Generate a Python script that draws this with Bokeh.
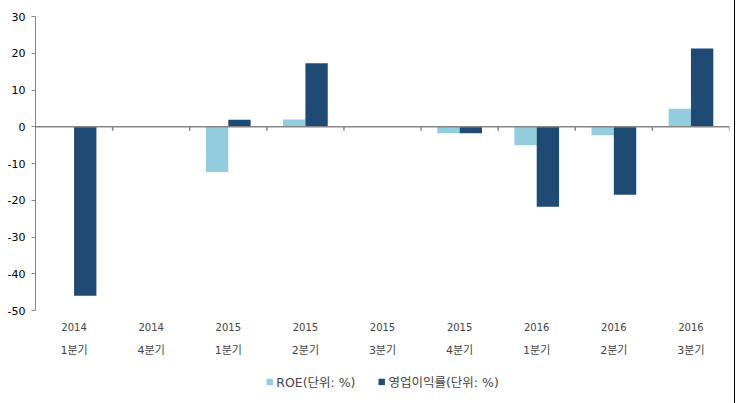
from bokeh.plotting import figure
from bokeh.layouts import column
from bokeh.models import (ColumnDataSource, FixedTicker, LinearAxis, Span, Legend,
                          LegendItem, Range1d)
from bokeh.embed import file_html
from bokeh.resources import INLINE

years = ["2014", "2014", "2015", "2015", "2015", "2015", "2016", "2016", "2016"]
quarters = ["1분기", "4분기", "1분기", "2분기", "3분기", "4분기", "1분기", "2분기", "3분기"]
roe = [0, 0, -12.3, 2.0, 0, -1.8, -5.0, -2.3, 4.9]
op_margin = [-46.0, 0, 1.9, 17.3, 0, -1.8, -21.8, -18.5, 21.3]
series_names = ["ROE(단위: %)", "영업이익률(단위: %)"]
y_ticks = [-50, -40, -30, -20, -10, 0, 10, 20, 30]

FONT = "DejaVu Sans, Noto Sans CJK KR"
GRAY = "#868686"
C_ROE = "#93CDDD"
C_OP = "#1F4A74"

n = len(years)
centers = [i + 0.5 for i in range(n)]
bw = 0.29
src = ColumnDataSource(dict(
    xr=[c - bw / 2 for c in centers],
    xo=[c + bw / 2 for c in centers],
    roe=roe, op=op_margin,
))

p = figure(width=734, height=359, output_backend="svg", toolbar_location=None,
           x_range=Range1d(0, n), y_range=Range1d(-50, 30),
           min_border_left=35, min_border_right=5, min_border_top=16, min_border_bottom=0)
p.xgrid.visible = False
p.ygrid.visible = False
p.outline_line_color = None
p.background_fill_color = "white"
p.border_fill_color = "white"

r1 = p.vbar(x="xr", top="roe", bottom=0, width=bw, source=src, fill_color=C_ROE, line_color=None)
r2 = p.vbar(x="xo", top="op", bottom=0, width=bw, source=src, fill_color=C_OP, line_color=None)

# zero line and category tick marks
p.add_layout(Span(location=0, dimension="width", line_color=GRAY, line_width=1.5))
bounds = list(range(1, n + 1))
tick_len = 4 / 3.7
p.segment(x0=bounds, x1=bounds, y0=[0] * len(bounds), y1=[-tick_len] * len(bounds),
          line_color=GRAY, line_width=1.5)

# y axis
ya = p.yaxis[0]
ya.ticker = FixedTicker(ticks=y_ticks)
ya.major_label_overrides = {t: str(t) for t in y_ticks}
ya.axis_line_color = GRAY
ya.major_tick_line_color = GRAY
ya.major_tick_in = 0
ya.major_tick_out = 4
ya.minor_tick_line_color = None
ya.major_label_text_font = FONT
ya.major_label_text_font_size = "11px"
ya.major_label_text_color = "black"
ya.major_label_standoff = 6

# x axes: years and quarters
xa = p.xaxis[0]
xa.ticker = FixedTicker(ticks=centers)
xa.major_label_overrides = {c: y for c, y in zip(centers, years)}
xa.axis_line_color = None
xa.major_tick_line_color = None
xa.minor_tick_line_color = None
xa.major_label_text_font = FONT
xa.major_label_text_font_size = "10px"
xa.major_label_standoff = 6

xq = LinearAxis(ticker=FixedTicker(ticks=centers),
                major_label_overrides={c: q for c, q in zip(centers, quarters)})
xq.axis_line_color = None
xq.major_tick_line_color = None
xq.minor_tick_line_color = None
xq.major_label_text_font = FONT
xq.major_label_text_font_size = "11px"
xq.major_label_standoff = 4
p.add_layout(xq, "below")

# legend strip (its glyphs reuse the data source, kept outside the visible range)
pl = figure(width=734, height=44, output_backend="svg", toolbar_location=None,
            x_range=Range1d(100, 101), y_range=Range1d(100, 101),
            min_border=0)
pl.axis.visible = False
pl.grid.visible = False
pl.outline_line_color = None
l1 = pl.vbar(x="xr", top="roe", width=bw, source=src, fill_color=C_ROE, line_color=None)
l2 = pl.vbar(x="xo", top="op", width=bw, source=src, fill_color=C_OP, line_color=None)
legend = Legend(items=[LegendItem(label=series_names[0], renderers=[l1]),
                       LegendItem(label=series_names[1], renderers=[l2])],
                orientation="horizontal", location="center",
                label_text_font=FONT, label_text_font_size="12.5px",
                glyph_width=8, glyph_height=8, spacing=22, label_standoff=3,
                border_line_color=None, background_fill_alpha=0, padding=0, margin=0)
pl.add_layout(legend, "center")

layout = column(p, pl, spacing=0)
layout.styles = {"outline": "1px solid black"}
open("out.html", "w").write(file_html(layout, INLINE))
